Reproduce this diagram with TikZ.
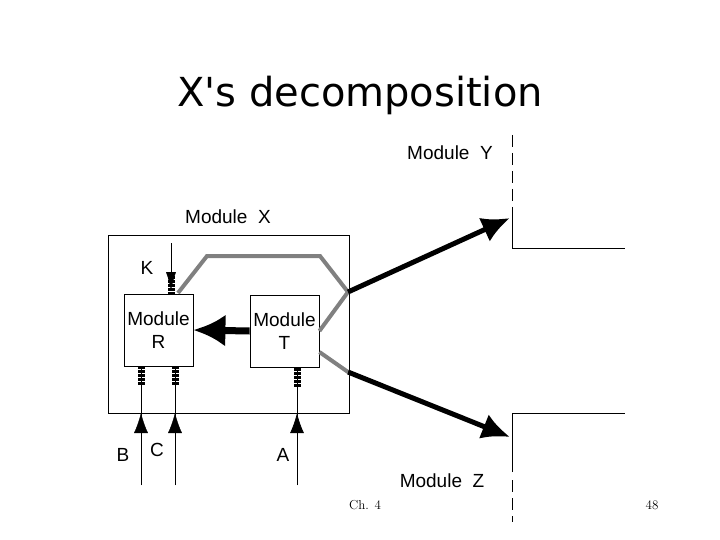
\documentclass[tikz,border=0pt]{standalone}
\usepackage{fontspec}
\setmainfont{Liberation Sans}
\newfontfamily\titlefont{DejaVu Sans}
\usetikzlibrary{arrows.meta}
\tikzset{
  modbox/.style = {draw, thick, minimum width=69pt, minimum height=72pt, inner sep=0pt, align=center, font=\fontsize{19}{23}\selectfont},
  lbl/.style = {font=\fontsize{19}{23}\selectfont},
  gray path/.style = {draw=gray, line width=4pt, line join=miter},
  flow/.style = {line width=5pt, -{Latex[length=28pt, width=26pt]}},
  stub/.style = {line width=7pt, dash pattern=on 2.5pt off 1.5pt},
  input/.style = {thin, -{Latex[length=20pt, width=14pt]}}
}
\begin{document}
\begin{tikzpicture}[x=1pt, y=-1pt]
    \useasboundingbox (0, 0) rectangle (720, 540);
    \node [font=\titlefont\fontsize{40}{46}\selectfont] (title) at (360, 95) {X\textquotesingle s decomposition};
    % module X and its parts
    \draw [thin] (108, 235) rectangle (349, 413);
    \node [lbl] (labx) at (228, 217) {Module\ \ X};
    \node [modbox] (r) at (158.5, 330) {Module\\R};
    \node [modbox] (t) at (284.5, 331) {Module\\T};
    \draw [line width=7pt, -{Latex[length=32pt, width=32pt]}] (t.west) -- (r.east);
    % uses, in gray
    \coordinate (ja) at (348, 292);
    \coordinate (jb) at (348, 372);
    \path [gray path] (178, 293) -- (207, 256) -- (320, 256) -- (ja) -- (t.east);
    \path [gray path] ([yshift=-21pt]t.east) -- (jb);
    % modules Y and Z
    \coordinate (y) at (510, 218);
    \coordinate (z) at (510, 437);
    \draw [flow] (ja) -- (y);
    \draw [flow] (jb) -- (z);
    \draw [thick] (512, 218) -- (512, 248) -- (625, 248);
    \draw [thick, dash pattern=on 12pt off 6pt] (512, 135) -- (512, 218);
    \draw [thick] (512, 472) -- (512, 413) -- (625, 413);
    \draw [thick, dash pattern=on 12pt off 6pt] (512, 480) -- (512, 522);
    \node [lbl] (laby) at (450, 153) {Module\ \ Y};
    \node [lbl] (labz) at (442, 481) {Module\ \ Z};
    % inputs
    \coordinate (k) at (171, 243);
    \coordinate (b) at (141, 485);
    \coordinate (c) at (175, 485);
    \coordinate (a) at (297, 485);
    \draw [stub] (171, 272) -- (171, 294);
    \draw [stub] (141, 366) -- (141, 386);
    \draw [stub] (175, 366) -- (175, 386);
    \draw [stub] (297, 368) -- (297, 388);
    \draw [thin, -{Latex[length=18pt, width=10pt]}] (k) -- (171, 290);
    \draw [thin] (b) -- (141, 366);
    \draw [thin] (c) -- (175, 366);
    \draw [thin] (a) -- (297, 368);
    \draw [input] (b) -- (141, 413);
    \draw [input] (c) -- (175, 413);
    \draw [input, thick] (a) -- (297, 413);
    \node [lbl] (labk) at (147, 268) {K};
    \node [lbl] (labb) at (123, 455) {B};
    \node [lbl] (labc) at (157, 450) {C};
    \node [lbl] (laba) at (283, 455) {A};
    % footer
    \node [font=\fontfamily{lmr}\selectfont\fontsize{13}{15}\selectfont] (ch) at (365, 505) {Ch. 4};
    \node [font=\fontfamily{lmr}\selectfont\fontsize{13}{15}\selectfont] (page) at (652, 505) {48};
\end{tikzpicture}
\end{document}
